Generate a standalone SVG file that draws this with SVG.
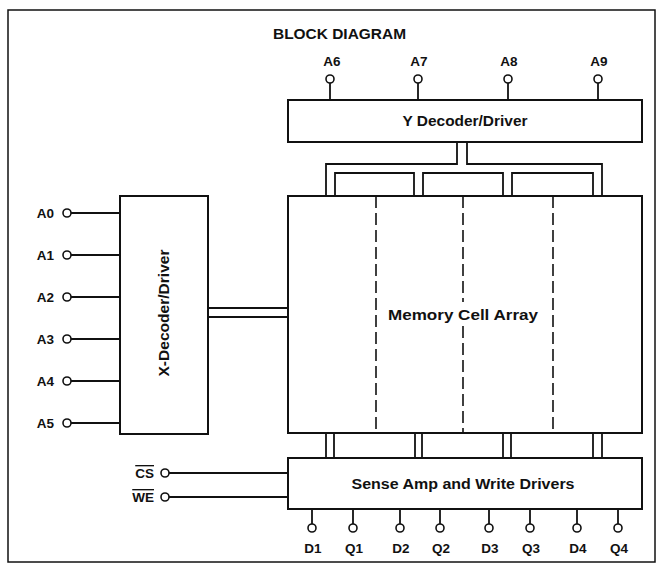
<svg xmlns="http://www.w3.org/2000/svg" width="661" height="571" viewBox="0 0 661 571">
<style>
  .box { fill: #fff; stroke: #111; stroke-width: 2; }
  .ln { fill: none; stroke: #111; stroke-width: 1.8; }
  .dash { fill: none; stroke: #111; stroke-width: 1.6; stroke-dasharray: 12 5; }
  .pin { fill: #fff; stroke: #111; stroke-width: 1.6; }
  .lbl { font-family: "Liberation Sans", Arial, sans-serif; font-weight: bold; font-size: 13.5px; fill: #111; }
  .txt { font-family: "Liberation Sans", Arial, sans-serif; font-weight: bold; font-size: 14.5px; fill: #111; }
  .title { font-family: "Liberation Sans", Arial, sans-serif; font-weight: bold; font-size: 15px; fill: #111; }
</style>
<rect x="0" y="0" width="661" height="571" fill="#fff"/>
<rect x="8" y="10" width="647" height="552" fill="none" stroke="#111" stroke-width="1.5"/>
<text class="title" x="273" y="39" textLength="133" lengthAdjust="spacingAndGlyphs">BLOCK DIAGRAM</text>

<g id="connectors">
  <!-- top address pins -->
  <line class="ln" x1="330" y1="82" x2="330" y2="100"/>
  <line class="ln" x1="418" y1="82" x2="418" y2="100"/>
  <line class="ln" x1="508" y1="82" x2="508" y2="100"/>
  <line class="ln" x1="598" y1="82" x2="598" y2="100"/>
  <!-- Y decoder bus -->
  <polyline class="ln" points="457,142 457,164 326,164 326,196"/>
  <polyline class="ln" points="467,142 467,164 602,164 602,196"/>
  <polyline class="ln" points="335,196 335,173 414,173 414,196"/>
  <polyline class="ln" points="423,196 423,173 503,173 503,196"/>
  <polyline class="ln" points="512,196 512,173 593,173 593,196"/>
  <!-- X decoder to array -->
  <line class="ln" x1="208" y1="308" x2="288" y2="308"/>
  <line class="ln" x1="208" y1="317" x2="288" y2="317"/>
  <!-- left address pins -->
  <line class="ln" x1="71" y1="213" x2="120" y2="213"/>
  <line class="ln" x1="71" y1="255" x2="120" y2="255"/>
  <line class="ln" x1="71" y1="297" x2="120" y2="297"/>
  <line class="ln" x1="71" y1="339" x2="120" y2="339"/>
  <line class="ln" x1="71" y1="381" x2="120" y2="381"/>
  <line class="ln" x1="71" y1="423" x2="120" y2="423"/>
  <!-- array to sense amp -->
  <line class="ln" x1="326" y1="433" x2="326" y2="458"/>
  <line class="ln" x1="334" y1="433" x2="334" y2="458"/>
  <line class="ln" x1="415" y1="433" x2="415" y2="458"/>
  <line class="ln" x1="422" y1="433" x2="422" y2="458"/>
  <line class="ln" x1="503" y1="433" x2="503" y2="458"/>
  <line class="ln" x1="511" y1="433" x2="511" y2="458"/>
  <line class="ln" x1="593" y1="433" x2="593" y2="458"/>
  <line class="ln" x1="602" y1="433" x2="602" y2="458"/>
  <!-- CS / WE -->
  <line class="ln" x1="169" y1="473" x2="288" y2="473"/>
  <line class="ln" x1="169" y1="497" x2="288" y2="497"/>
  <!-- data pins -->
  <line class="ln" x1="312" y1="509" x2="312" y2="524"/>
  <line class="ln" x1="353" y1="509" x2="353" y2="524"/>
  <line class="ln" x1="400" y1="509" x2="400" y2="524"/>
  <line class="ln" x1="440" y1="509" x2="440" y2="524"/>
  <line class="ln" x1="489" y1="509" x2="489" y2="524"/>
  <line class="ln" x1="530" y1="509" x2="530" y2="524"/>
  <line class="ln" x1="577" y1="509" x2="577" y2="524"/>
  <line class="ln" x1="618" y1="509" x2="618" y2="524"/>
</g>

<g id="y-decoder">
  <rect class="box" x="288" y="100" width="354" height="42"/>
  <text class="txt" x="465" y="126" text-anchor="middle" textLength="125" lengthAdjust="spacingAndGlyphs">Y Decoder/Driver</text>
</g>

<g id="memory-array">
  <rect class="box" x="288" y="196" width="354" height="237"/>
  <line class="dash" x1="376" y1="196" x2="376" y2="433"/>
  <line class="dash" x1="463" y1="196" x2="463" y2="302"/>
  <line class="dash" x1="463" y1="326" x2="463" y2="433"/>
  <line class="dash" x1="553" y1="196" x2="553" y2="433"/>
  <text class="txt" x="463" y="320" text-anchor="middle" textLength="150" lengthAdjust="spacingAndGlyphs">Memory Cell Array</text>
</g>

<g id="x-decoder">
  <rect class="box" x="120" y="196" width="88" height="238"/>
  <text class="txt" transform="translate(169,313) rotate(-90)" x="0" y="0" text-anchor="middle" textLength="127" lengthAdjust="spacingAndGlyphs">X-Decoder/Driver</text>
</g>

<g id="sense-amp">
  <rect class="box" x="288" y="458" width="354" height="51"/>
  <text class="txt" x="463" y="489" text-anchor="middle" textLength="223" lengthAdjust="spacingAndGlyphs">Sense Amp and Write Drivers</text>
</g>

<g id="pins-top">
  <circle class="pin" cx="330" cy="79" r="4"/><text class="lbl" x="332" y="66" text-anchor="middle">A6</text>
  <circle class="pin" cx="418" cy="79" r="4"/><text class="lbl" x="419" y="66" text-anchor="middle">A7</text>
  <circle class="pin" cx="508" cy="79" r="4"/><text class="lbl" x="509" y="66" text-anchor="middle">A8</text>
  <circle class="pin" cx="598" cy="79" r="4"/><text class="lbl" x="599" y="66" text-anchor="middle">A9</text>
</g>

<g id="pins-left">
  <circle class="pin" cx="67" cy="213" r="4"/><text class="lbl" x="54" y="218" text-anchor="end">A0</text>
  <circle class="pin" cx="67" cy="255" r="4"/><text class="lbl" x="54" y="260" text-anchor="end">A1</text>
  <circle class="pin" cx="67" cy="297" r="4"/><text class="lbl" x="54" y="302" text-anchor="end">A2</text>
  <circle class="pin" cx="67" cy="339" r="4"/><text class="lbl" x="54" y="344" text-anchor="end">A3</text>
  <circle class="pin" cx="67" cy="381" r="4"/><text class="lbl" x="54" y="386" text-anchor="end">A4</text>
  <circle class="pin" cx="67" cy="423" r="4"/><text class="lbl" x="54" y="428" text-anchor="end">A5</text>
  <circle class="pin" cx="165" cy="473" r="4"/><text class="lbl" x="154" y="478" text-anchor="end" style="text-decoration: overline;">CS</text>
  <circle class="pin" cx="165" cy="497" r="4"/><text class="lbl" x="154" y="502" text-anchor="end" style="text-decoration: overline;">WE</text>
</g>

<g id="pins-bottom">
  <circle class="pin" cx="312" cy="528" r="4"/><text class="lbl" x="313" y="553" text-anchor="middle">D1</text>
  <circle class="pin" cx="353" cy="528" r="4"/><text class="lbl" x="354" y="553" text-anchor="middle">Q1</text>
  <circle class="pin" cx="400" cy="528" r="4"/><text class="lbl" x="401" y="553" text-anchor="middle">D2</text>
  <circle class="pin" cx="440" cy="528" r="4"/><text class="lbl" x="441" y="553" text-anchor="middle">Q2</text>
  <circle class="pin" cx="489" cy="528" r="4"/><text class="lbl" x="490" y="553" text-anchor="middle">D3</text>
  <circle class="pin" cx="530" cy="528" r="4"/><text class="lbl" x="531" y="553" text-anchor="middle">Q3</text>
  <circle class="pin" cx="577" cy="528" r="4"/><text class="lbl" x="578" y="553" text-anchor="middle">D4</text>
  <circle class="pin" cx="618" cy="528" r="4"/><text class="lbl" x="619" y="553" text-anchor="middle">Q4</text>
</g>
</svg>
